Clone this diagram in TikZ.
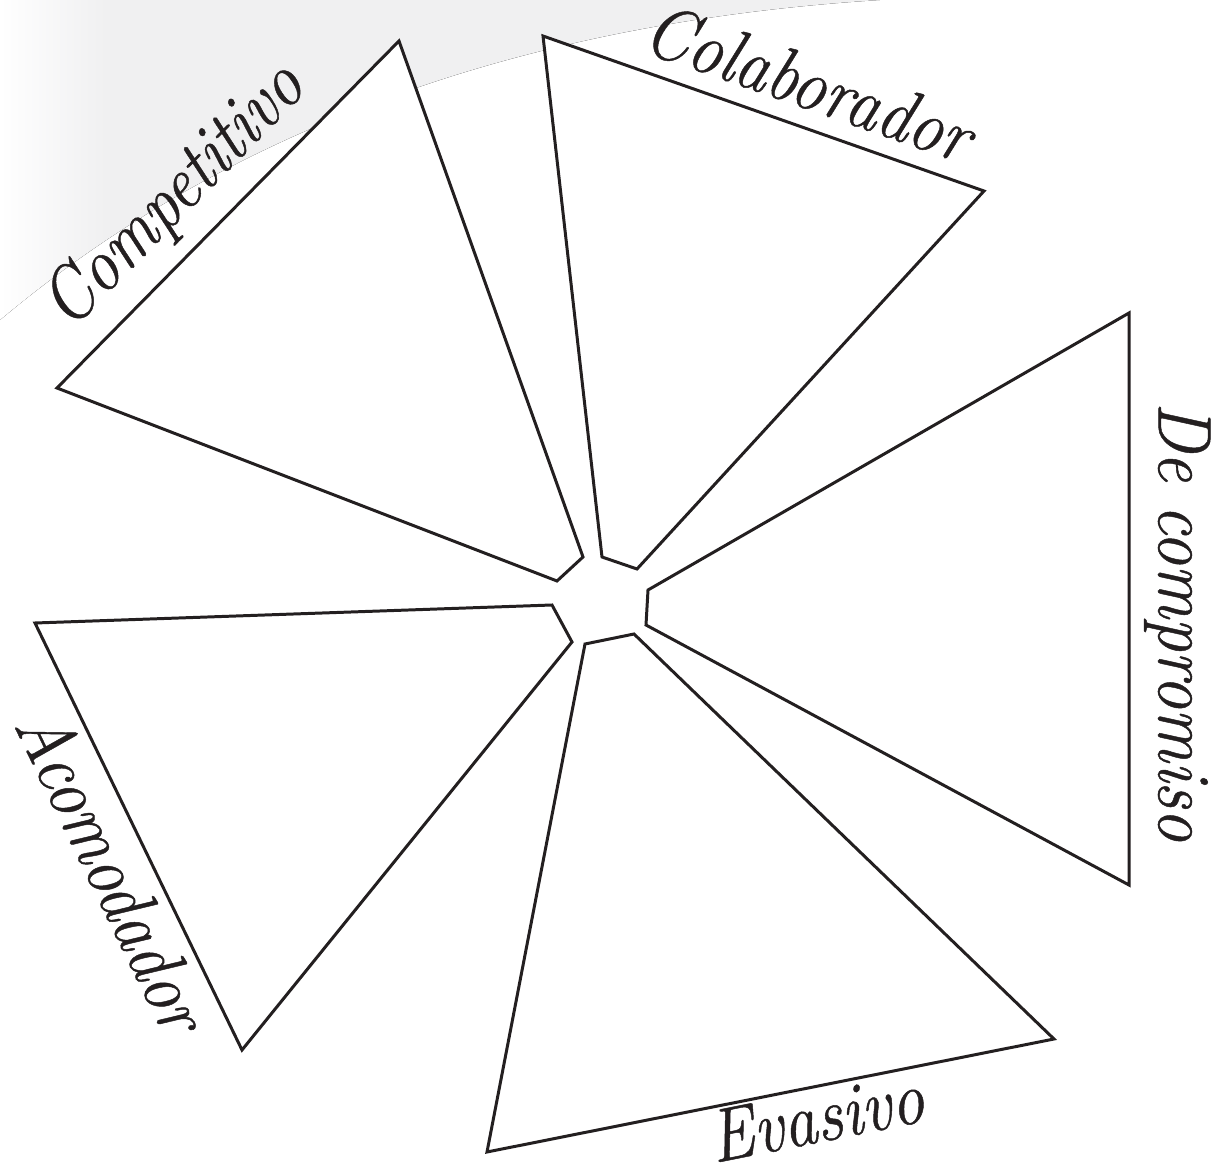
\documentclass[tikz,border=0pt]{standalone}
\usepackage{fontspec}
\newfontfamily\lblfont{Latin Modern Roman}[FakeStretch=0.88, FakeBold=0.6]
\usepackage{xcolor}
\usetikzlibrary{calc}
\definecolor{inkline}{HTML}{231F20}
\definecolor{bggray}{HTML}{F0F0F1}
\pgfdeclarehorizontalshading{bgfade}{100bp}{color(0bp)=(white); color(25bp)=(white); color(31bp)=(bggray); color(100bp)=(bggray)}

\begin{document}
\begin{tikzpicture}[
    x=0.2mm, y=-0.2mm,
    vane/.style={draw=inkline, line width=1.7pt, line join=miter, fill=white},
    lbl/.style={font=\lblfont\fontsize{43}{51}\selectfont\itshape, text=inkline, sloped, allow upside down, text height=29pt, text depth=9.3pt, inner xsep=0pt}
]
\useasboundingbox (0,0) rectangle (1219,1165);
% background swoosh
\fill[shading=bgfade] (0,0) -- (880,0) .. controls (560,20) and (250,110) .. (0,320) -- cycle;

% vertices of the five vanes
\coordinate (comp1) at (57,388);
\coordinate (comp2) at (399,41);
\coordinate (comp3) at (583,557);
\coordinate (comp4) at (557,581);
\coordinate (cola1) at (543,36);
\coordinate (cola2) at (984,191);
\coordinate (cola3) at (637,569);
\coordinate (cola4) at (602,557);
\coordinate (deco1) at (1129,313);
\coordinate (deco2) at (1129,885);
\coordinate (deco3) at (646,625);
\coordinate (deco4) at (648,590);
\coordinate (evas1) at (1054,1039);
\coordinate (evas2) at (487,1152);
\coordinate (evas3) at (585,644);
\coordinate (evas4) at (634,634);
\coordinate (acom1) at (242,1050);
\coordinate (acom2) at (35,623);
\coordinate (acom3) at (552,605);
\coordinate (acom4) at (572,642);

\draw[vane] (comp1) -- (comp2) -- (comp3) -- (comp4) -- cycle;
\draw[vane] (cola1) -- (cola2) -- (cola3) -- (cola4) -- cycle;
\draw[vane] (deco1) -- (deco2) -- (deco3) -- (deco4) -- cycle;
\draw[vane] (evas1) -- (evas2) -- (evas3) -- (evas4) -- cycle;
\draw[vane] (acom1) -- (acom2) -- (acom3) -- (acom4) -- cycle;

% labels along the outer edges
\path (comp1) -- node[lbl, pos=0.45, anchor=south, inner ysep=2.8mm] (tComp) {Competitivo} (comp2);
\path (cola1) -- node[lbl, pos=0.57, anchor=south, inner ysep=0.4mm] (tCola) {Colaborador} (cola2);
\path (deco1) -- node[lbl, pos=0.54, anchor=south, inner ysep=2.6mm] (tDeco) {De compromiso} (deco2);
\path (evas2) -- node[lbl, pos=0.57, anchor=north, inner ysep=0.8mm] (tEvas) {Evasivo} (evas1);
\path (acom2) -- node[lbl, pos=0.54, anchor=north, inner ysep=2.5mm] (tAcom) {Acomodador} (acom1);
\end{tikzpicture}
\end{document}
